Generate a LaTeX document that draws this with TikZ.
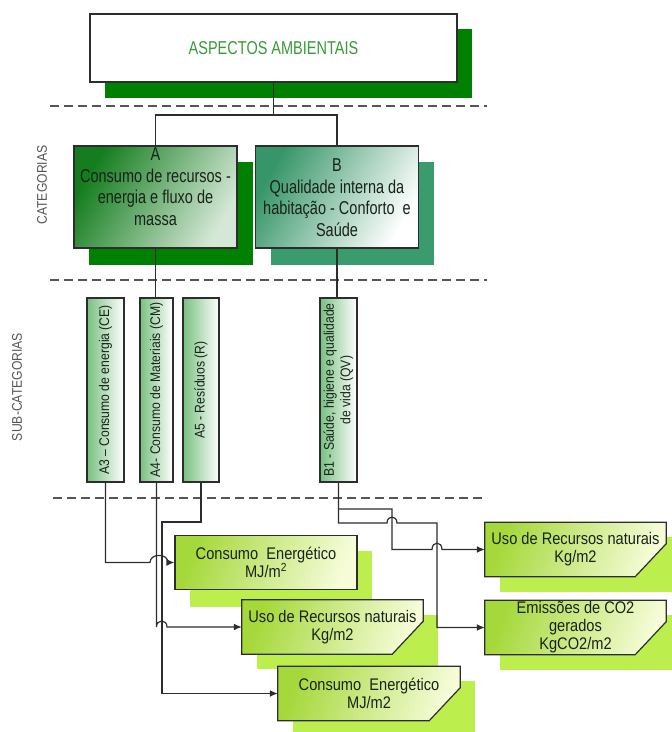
\documentclass[tikz,border=0pt]{standalone}
\usepackage{fontspec}
\setmainfont{Liberation Sans}
\newfontfamily\fA{Liberation Sans}[FakeStretch=0.78]
\newfontfamily\fB{Liberation Sans}[FakeStretch=0.87]
\usetikzlibrary{arrows.meta,calc}
\definecolor{darkgr}{RGB}{0,128,0}
\definecolor{shadB}{RGB}{58,155,108}
\definecolor{catAdark}{RGB}{20,125,30}
\definecolor{catBdark}{RGB}{55,150,105}
\definecolor{subg}{RGB}{120,192,128}
\definecolor{limesh}{RGB}{188,238,78}
\definecolor{limeA}{RGB}{165,216,58}
\definecolor{limeB}{RGB}{245,252,215}
\definecolor{titlec}{RGB}{55,155,55}
\definecolor{textc}{RGB}{25,35,25}
\definecolor{linec}{RGB}{45,45,45}
\definecolor{sepc}{RGB}{85,85,85}
\newcommand\chbox[4]{%
  \node[frame, minimum width=#3] (#1) at (#2) {};
  \fill[limesh] ($(#1.north west)+(15,15)$) rectangle ($(#1.south east)+(15,15)$);
  \shade[chamf] (#1.north west) -- (#1.north east) -- ($(#1.south east)+(0,-33)$) -- ($(#1.south east)+(-31,0)$) -- (#1.south west) -- cycle;
  \node[btxt] (#1t) at (#1.center) {#4};
}
\begin{document}
\begin{tikzpicture}[x=1pt,y=-1pt,
  conn/.style={draw=linec, line width=1.2pt},
  arr/.style={conn, -{Latex[length=8pt,width=7pt]}},
  sepline/.style={draw=sepc, line width=1.3pt, dash pattern=on 9pt off 5pt},
  catbox/.style={draw=linec, line width=1.2pt, minimum width=163pt, minimum height=102pt, inner sep=0pt},
  cattxt/.style={align=center, text=textc, font={\fA\fontsize{18.6}{21.6}\selectfont}, inner sep=0pt},
  subbox/.style={draw=linec, line width=1.2pt, minimum height=184pt, inner sep=0pt, left color=subg, middle color=subg!35!white, right color=white},
  subtxt/.style={rotate=90, align=center, text=textc, font={\fB\fontsize{14}{16.5}\selectfont}, inner sep=0pt},
  sidelbl/.style={rotate=90, text=sepc, font={\fB\fontsize{14}{16}\selectfont}, inner sep=0pt},
  frame/.style={minimum height=54pt, inner sep=0pt},
  chamf/.style={draw=linec, line width=1.2pt, top color=limeA, bottom color=limeB, shading angle=70},
  btxt/.style={align=center, text=textc, font={\fB\fontsize{16.8}{18}\selectfont}, inner sep=0pt}
]
\useasboundingbox (0,0) rectangle (672,732);

% separators
\draw[sepline] (50,106) -- (487,106);
\draw[sepline] (50,280) -- (487,280);
\draw[sepline] (53,498) -- (487,498);

% side labels
\node[sidelbl] (lblcat) at (42,185) {CATEGORIAS};
\node[sidelbl] (lblsub) at (17,387) {SUB-CATEGORIAS};

% top box
\fill[darkgr] (105,29) rectangle (472,98);
\node[draw=linec, line width=1.2pt, fill=white, minimum width=367pt, minimum height=68pt, inner sep=0pt,
      text=titlec, font={\fA\fontsize{18.6}{22}\selectfont}] (top) at (273.5,48) {ASPECTOS AMBIENTAIS};

% category boxes
\fill[darkgr] (89,162) rectangle (253,265);
\node[catbox, top color=catAdark, middle color=catAdark!10!white, bottom color=catAdark!18!white, shading angle=60] (A) at (155.5,197) {};
\node[cattxt] (At) at (155.5,186.5) {A\\Consumo de recursos -\\energia e fluxo de\\massa};
\fill[shadB] (271,162) rectangle (434,265);
\node[catbox, top color=catBdark, middle color=catBdark!14!white, bottom color=white, shading angle=60] (B) at (337,197) {};
\node[cattxt] (Bt) at (337,197.5) {B\\Qualidade interna da\\habitação - Conforto~~e\\Saúde};

\coordinate (j1) at (273.5,115);
\draw[conn] (top.south) -- (j1);
\draw[conn] (j1) -| (A.north);
\draw[conn] (j1) -| (B.north);

% sub-category boxes
\node[subbox, minimum width=37pt] (A3) at (105.5,390) {};
\node[subtxt] (A3t) at (A3.center) {A3 – Consumo de energia (CE)};
\node[subbox, minimum width=33pt] (A4) at (156.5,390) {};
\node[subtxt] (A4t) at (A4.center) {A4- Consumo de Materiais (CM)};
\node[subbox, minimum width=36pt] (A5) at (201,390) {};
\node[subtxt] (A5t) at (A5.center) {A5 - Resíduos (R)};
\node[subbox, minimum width=37pt] (B1) at (338.5,390) {};
\node[subtxt] (B1t) at (B1.center) {B1 - Saúde, higiene e qualidade\\de vida (QV)};

\draw[conn] (A.south) -- (A.south |- A4.north);
\draw[conn] (B.south) -- (B.south |- B1.north);

% bottom boxes
\fill[limesh] (190,551) rectangle (372,607);
\node[draw=linec, line width=1.2pt, minimum width=182pt, minimum height=54pt, inner sep=0pt,
      top color=limeA, bottom color=limeB, shading angle=70] (E1) at (266,562.5) {};
\node[btxt] (E1t) at (E1.center) {Consumo~~Energético\\MJ/m\textsuperscript{2}};
\chbox{U2}{332.5,627}{181pt}{Uso de Recursos naturais\\Kg/m2}
\chbox{E3}{369,693.5}{182pt}{Consumo~~Energético\\MJ/m2}
\chbox{R1}{575.5,549.5}{181pt}{Uso de Recursos naturais\\Kg/m2}
\chbox{R2}{575.5,627.5}{181pt}{Emissões de CO2\\gerados\\KgCO2/m2}

% connectors A
\draw[arr] (A3.south) -- (105.5,562.5) -- (150,562.5) .. controls (150,553) and (168,553) .. (168,562.5) -- (E1.west);
\draw[arr] (A4.south) -- (156.5,627) .. controls (156.5,619) and (167,619) .. (167,627) -- (U2.west);
\draw[arr] (A5.south) |- (162,522) |- (E3.west);

% connectors B
\coordinate (b1j) at (338.5,509);
\draw[arr] (B1.south) -- (338.5,523) -- (387,523) .. controls (387,515) and (397,515) .. (397,523) -- (437,523) |- (R2.west);
\draw[arr] (b1j) -| (392,549.5) -- (432,549.5) .. controls (432,541) and (442,541) .. (442,549.5) -- (R1.west);
\end{tikzpicture}
\end{document}
